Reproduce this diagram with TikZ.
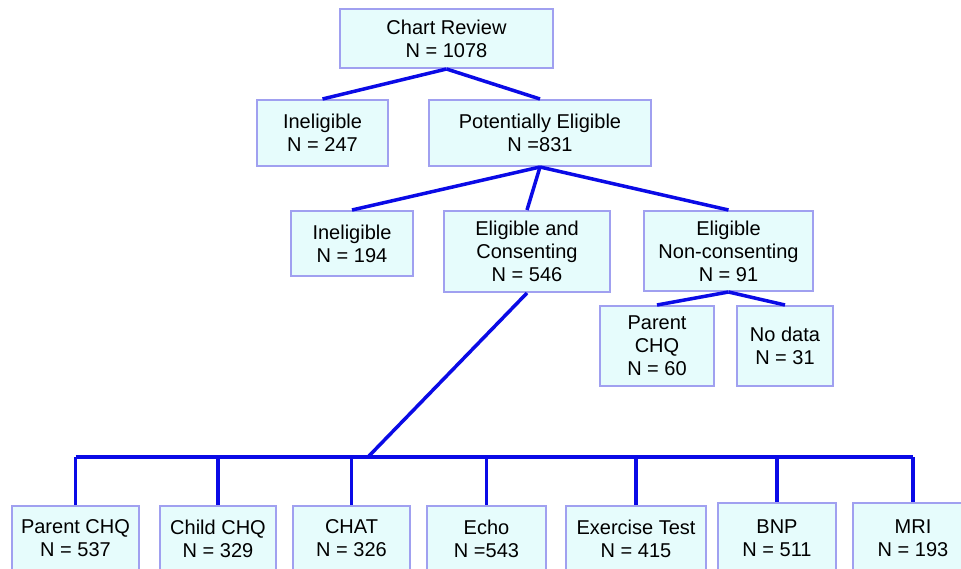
\documentclass[tikz,border=0pt]{standalone}
\usepackage{fontspec}
\setmainfont{Liberation Sans}
\definecolor{boxfill}{HTML}{E6FCFC}
\definecolor{boxline}{HTML}{A0A0F0}
\definecolor{conn}{HTML}{0A0AE6}
\tikzset{
  box/.style={draw=boxline, fill=boxfill, line width=2pt, inner sep=0pt,
    align=center, font=\fontsize{20}{23}\selectfont},
  link/.style={draw=conn, line width=3.5pt}
}
\begin{document}
\begin{tikzpicture}[x=1pt,y=-1pt]
\useasboundingbox (0,0) rectangle (961,569);
\clip (0,0) rectangle (961,569);
\fill[white] (0,0) rectangle (961,569);
% level 0
\node[box, minimum width=213pt, minimum height=59pt] (cr) at (446.5,38.5) {Chart Review\\N = 1078};
% level 1
\node[box, minimum width=131pt, minimum height=66pt] (in1) at (322.5,133) {Ineligible\\N = 247};
\node[box, minimum width=222pt, minimum height=66pt] (pe) at (540,133) {Potentially Eligible\\N =831};
% level 2
\node[box, minimum width=122pt, minimum height=65pt] (in2) at (352,243.5) {Ineligible\\N = 194};
\node[box, minimum width=166pt, minimum height=81pt] (ec) at (527,251.5) {Eligible and\\Consenting\\N = 546};
\node[box, minimum width=169pt, minimum height=80pt] (enc) at (728.5,251) {Eligible\\Non-consenting\\N = 91};
% level 3 (non-consenting)
\node[box, minimum width=114pt, minimum height=80pt] (pchq) at (657,346) {Parent\\CHQ\\N = 60};
\node[box, minimum width=96pt, minimum height=80pt] (nod) at (785,346) {No data\\N = 31};
% bottom row
\node[box, minimum width=127pt, minimum height=65pt] (b1) at (75.5,538.5) {Parent CHQ\\N = 537};
\node[box, minimum width=116pt, minimum height=65pt] (b2) at (218,538.5) {Child CHQ\\N = 329};
\node[box, minimum width=117pt, minimum height=65pt] (b3) at (351.5,538.5) {CHAT\\N = 326};
\node[box, minimum width=119pt, minimum height=65pt] (b4) at (486.5,538.5) {Echo\\N =543};
\node[box, minimum width=140pt, minimum height=65pt] (b5) at (636,538.5) {Exercise Test\\N = 415};
\node[box, minimum width=118pt, minimum height=71pt] (b6) at (777,538.5) {BNP\\N = 511};
\node[box, minimum width=120pt, minimum height=71pt] (b7) at (913,538.5) {MRI\\N = 193};
% connectors
\coordinate (bar) at (368,457);
\draw[link] (cr.south) -- (in1.north);
\draw[link] (cr.south) -- (pe.north);
\draw[link] (pe.south) -- (in2.north);
\draw[link] (pe.south) -- (ec.north);
\draw[link] (pe.south) -- (enc.north);
\draw[link] (enc.south) -- (pchq.north);
\draw[link] (enc.south) -- (nod.north);
\draw[link] (ec.south) -- (bar);
\draw[link] (b1.north |- bar) -- (b7.north |- bar);
\foreach \b in {b1,b2,b3,b4,b5,b6,b7}
  \draw[link] (\b.north |- bar) -- (\b.north);
\end{tikzpicture}
\end{document}
